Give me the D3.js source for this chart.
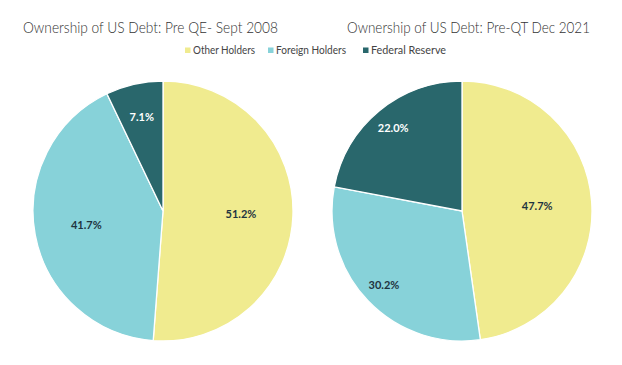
<!doctype html>
<html>
<head>
<meta charset="utf-8">
<script src="https://cdn.jsdelivr.net/npm/d3@7"></script>
<style>
  body { margin: 0; background: #fff; }
  svg { display: block; }
  .title { font-family: Lato, "Open Sans", sans-serif; font-size: 15px; font-weight: 300; fill: #333; }
  .legend text { font-family: Lato, "Open Sans", sans-serif; font-size: 10.5px; fill: #444; }
  .lbl { font-family: Lato, "Open Sans", sans-serif; font-size: 11px; font-weight: bold; }
</style>
</head>
<body>
<svg id="chart" width="622" height="365"></svg>
<script>
  var categories = ['Other Holders', 'Foreign Holders', 'Federal Reserve'];
  var titles = ['Ownership of US Debt: Pre QE- Sept 2008', 'Ownership of US Debt: Pre-QT Dec 2021'];
  var values2008 = [51.2, 41.7, 7.1];
  var values2021 = [47.7, 30.2, 22.0];

  var colors = ['#f0eb8f', '#87d2d9', '#29676c'];
  var labelColors = ['#1e3440', '#1e3440', '#ffffff'];

  // label distance from center as fraction of radius (excel best fit)
  var labelRadius = [[0.6, 0.6, 0.74], [0.58, 0.83, 0.83]];

  var svg = d3.select('#chart');
  var radius = 130;
  var centers = [163, 462];
  var cy = 211;
  var titleX = [23, 347], titleW = [255, 243];

  var pie = d3.pie().sort(null).value(function (d) { return d; });
  var arc = d3.arc().innerRadius(0).outerRadius(radius);

  [values2008, values2021].forEach(function (vals, i) {
    var g = svg.append('g').attr('transform', 'translate(' + centers[i] + ',' + cy + ')');
    var arcs = pie(vals);

    g.selectAll('path')
      .data(arcs)
      .enter().append('path')
      .attr('d', arc)
      .attr('fill', function (d, j) { return colors[j]; })
      .attr('stroke', '#fff')
      .attr('stroke-width', 1.3);

    g.selectAll('text')
      .data(arcs)
      .enter().append('text')
      .attr('class', 'lbl')
      .attr('text-anchor', 'middle')
      .attr('dy', '0.35em')
      .attr('fill', function (d, j) { return labelColors[j]; })
      .attr('transform', function (d, j) {
        var r = radius * labelRadius[i][j];
        var a = (d.startAngle + d.endAngle) / 2;
        return 'translate(' + (Math.sin(a) * r) + ',' + (-Math.cos(a) * r) + ')';
      })
      .text(function (d) { return d.value.toFixed(1) + '%'; });

    svg.append('text')
      .attr('class', 'title')
      .attr('x', titleX[i])
      .attr('y', 33)
      .attr('textLength', titleW[i])
      .attr('lengthAdjust', 'spacingAndGlyphs')
      .text(titles[i]);
  });

  // legend
  var legend = svg.append('g').attr('class', 'legend');
  var legendX = [185, 268, 363];
  var legendW = [62, 70, 75];
  categories.forEach(function (c, j) {
    legend.append('rect')
      .attr('x', legendX[j]).attr('y', 47.5)
      .attr('width', 5.5).attr('height', 5.5)
      .attr('fill', colors[j]);
    legend.append('text')
      .attr('x', legendX[j] + 8).attr('y', 54)
      .attr('textLength', legendW[j])
      .attr('lengthAdjust', 'spacingAndGlyphs')
      .text(c);
  });
</script>
</body>
</html>
